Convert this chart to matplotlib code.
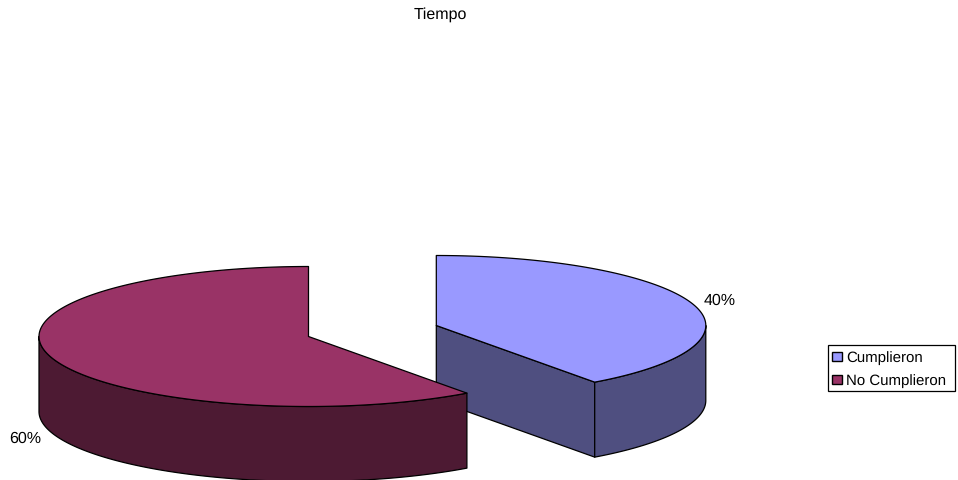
import numpy as np
import matplotlib
matplotlib.use("Agg")
import matplotlib.pyplot as plt
from matplotlib.patches import Polygon, Rectangle

# Survey result: share of people who met the time target
title = "Tiempo"
categories = ["Cumplieron", "No Cumplieron"]
percentages = [40, 60]
top_colors = ["#9999FF", "#993366"]
side_colors = ["#4F4F80", "#4D1A33"]

# Pie layout on a pixel canvas (y grows downward)
WIDTH, HEIGHT = 958, 481
RX, RY, DEPTH = 269.5, 70, 75
centers = [(436.3, 326.5), (308.5, 337.5)]
FONT_SIZE = 11.3
LEGEND_FONT_SIZE = 11.15

plt.rcParams["font.family"] = ["Liberation Sans", "DejaVu Sans"]
plt.rcParams["text.hinting"] = "no_hinting"
plt.rcParams["text.hinting_factor"] = 1
fig = plt.figure(figsize=(WIDTH / 100, HEIGHT / 100), dpi=100)
ax = fig.add_axes([0, 0, 1, 1])
ax.set_xlim(0, WIDTH)
ax.set_ylim(HEIGHT, 0)
ax.axis("off")


def rim(center, a0, a1, n=200):
    """Points on the top ellipse; angles run clockwise from 12 o'clock."""
    t = np.linspace(a0, a1, n)
    return np.column_stack([center[0] + RX * np.sin(t), center[1] - RY * np.cos(t)])


def draw_slice(center, a0, a1, top, side, z):
    edge = dict(edgecolor="black", linewidth=0.9, joinstyle="round")
    apex = np.array(center, dtype=float)
    down = np.array([0, DEPTH])

    # Radial cut faces, drawn only when they turn toward the viewer
    for angle, visible in ((a0, np.sin(a0) < -1e-9), (a1, np.sin(a1) > 1e-9)):
        if visible:
            p = rim(center, angle, angle, 1)[0]
            wall = np.array([apex, p, p + down, apex + down])
            ax.add_patch(Polygon(wall, closed=True, facecolor=side, zorder=z, **edge))

    # Outer wall only where the rim faces the viewer (between 90 and 270 degrees)
    lo, hi = max(a0, np.pi / 2), min(a1, 3 * np.pi / 2)
    if hi > lo:
        arc = rim(center, lo, hi)
        ax.add_patch(Polygon(np.vstack([arc, (arc + down)[::-1]]), closed=True,
                             facecolor=side, zorder=z + 0.1, **edge))

    # Top face
    ax.add_patch(Polygon(np.vstack([apex, rim(center, a0, a1)]), closed=True,
                         facecolor=top, zorder=z + 0.2, **edge))


fractions = np.array(percentages) / sum(percentages)
bounds = np.concatenate([[0], np.cumsum(fractions)]) * 2 * np.pi
draw_slice(centers[0], bounds[0], bounds[1], top_colors[0], side_colors[0], 2)
draw_slice(centers[1], bounds[1], bounds[2], top_colors[1], side_colors[1], 3)

text_style = dict(fontsize=FONT_SIZE, color="black", va="center", ha="center")
ax.text(440, 14.5, title, **text_style)
ax.text(719.5, 300.5, f"{percentages[0]}%", **text_style)
ax.text(25.5, 438.5, f"{percentages[1]}%", **text_style)

# Legend box
ax.add_patch(Rectangle((828, 345.5), 127.5, 46, facecolor="white",
                       edgecolor="black", linewidth=0.9, zorder=5))
for y, label, color in zip((357.5, 380.5), categories, top_colors):
    ax.add_patch(Rectangle((832.5, y - 5), 10, 9.5, facecolor=color,
                           edgecolor="black", linewidth=1.0, zorder=6))
    ax.text(846, y + 1, label, fontsize=LEGEND_FONT_SIZE, va="center", ha="left", zorder=6)

fig.savefig("out.png", dpi=100, facecolor="white")
